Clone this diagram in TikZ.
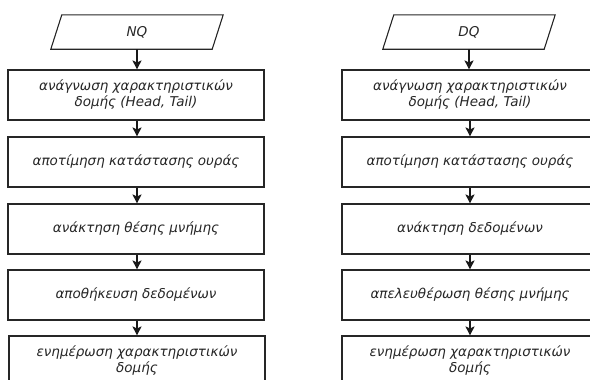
\documentclass[tikz,border=0pt]{standalone}
\usepackage{fontspec}
\setmainfont{DejaVu Sans}
\usetikzlibrary{arrows.meta}

\begin{document}
\begin{tikzpicture}[x=1pt,y=-1pt,
  every node/.style={font=\itshape\fontsize{13.5}{16}\selectfont, text=black!85},
  stepbox/.style={draw=black!85, line width=1.1pt, minimum width=256pt, minimum height=50pt,
    inner sep=0pt, align=center},
  iobase/.style={minimum width=161pt, minimum height=34pt, inner sep=0pt},
  flow/.style={draw=black!90, line width=1.1pt, -{Stealth[length=9pt,width=9pt,inset=2pt]}},
  frame/.style={draw=black!85, line width=1.1pt, line join=miter}
]
\useasboundingbox (0,0) rectangle (590,380);
\begin{scope}
\clip (0,0) rectangle (590,380);

% enqueue column
\node[iobase] (nq) at (137,32) {NQ};
\draw[frame] ([xshift=-5.5pt]nq.south west) -- ([xshift=5.5pt]nq.north west)
  -- ([xshift=5.5pt]nq.north east) -- ([xshift=-5.5pt]nq.south east) -- cycle;
\node[stepbox] (a1) at (136,95) {ανάγνωση χαρακτηριστικών\\δομής (Head, Tail)};
\node[stepbox] (a2) at (136,162) {αποτίμηση κατάστασης ουράς};
\node[stepbox] (a3) at (136,229) {ανάκτηση θέσης μνήμης};
\node[stepbox] (a4) at (136,295) {αποθήκευση δεδομένων};
\node[stepbox] (a5) at (137,361) {ενημέρωση χαρακτηριστικών\\δομής};
\draw[flow] (nq.south) -- (nq.south |- a1.north);
\draw[flow] (nq.south |- a1.south) -- (nq.south |- a2.north);
\draw[flow] (nq.south |- a2.south) -- (nq.south |- a3.north);
\draw[flow] (nq.south |- a3.south) -- (nq.south |- a4.north);
\draw[flow] (nq.south |- a4.south) -- (nq.south |- a5.north);

% dequeue column
\node[iobase] (dq) at (469,32) {DQ};
\draw[frame] ([xshift=-5.5pt]dq.south west) -- ([xshift=5.5pt]dq.north west)
  -- ([xshift=5.5pt]dq.north east) -- ([xshift=-5.5pt]dq.south east) -- cycle;
\node[stepbox] (b1) at (470,95) {ανάγνωση χαρακτηριστικών\\δομής (Head, Tail)};
\node[stepbox] (b2) at (470,162) {αποτίμηση κατάστασης ουράς};
\node[stepbox] (b3) at (470,229) {ανάκτηση δεδομένων};
\node[stepbox] (b4) at (470,295) {απελευθέρωση θέσης μνήμης};
\node[stepbox] (b5) at (470,361) {ενημέρωση χαρακτηριστικών\\δομής};
\draw[flow] (dq.south) -- (dq.south |- b1.north);
\draw[flow] (b1.south) -- (b2.north);
\draw[flow] (b2.south) -- (b3.north);
\draw[flow] (b3.south) -- (b4.north);
\draw[flow] (b4.south) -- (b5.north);
\end{scope}
\end{tikzpicture}
\end{document}
